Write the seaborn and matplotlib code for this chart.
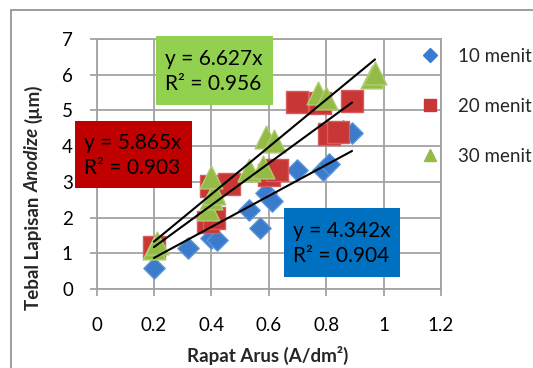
import numpy as np
import pandas as pd
import matplotlib
matplotlib.use("Agg")
import matplotlib.pyplot as plt
import seaborn as sns
from matplotlib.lines import Line2D
from matplotlib.patches import Rectangle

# Anodized layer thickness vs. current density for three anodizing times
series = ["10 menit", "20 menit", "30 menit"]

x_10 = [0.20, 0.32, 0.40, 0.42, 0.53, 0.57, 0.59, 0.61, 0.70, 0.79, 0.81, 0.86, 0.89]
y_10 = [0.60, 1.15, 1.42, 1.37, 2.20, 1.72, 2.68, 2.47, 3.33, 3.32, 3.50, 4.42, 4.37]

x_20 = [0.20, 0.39, 0.41, 0.40, 0.46, 0.60, 0.63, 0.70, 0.78, 0.81, 0.84, 0.89]
y_20 = [1.18, 1.88, 2.00, 2.88, 2.95, 3.20, 3.33, 5.24, 5.20, 4.35, 4.40, 5.27]

x_30 = [0.20, 0.21, 0.39, 0.40, 0.41, 0.40, 0.53, 0.58, 0.59, 0.62, 0.77, 0.80, 0.96, 0.97]
y_30 = [1.15, 1.28, 2.25, 2.55, 2.70, 3.15, 3.33, 3.42, 4.26, 4.15, 5.50, 5.35, 5.94, 6.05]

# Linear trend lines through the origin: slope and R²
slopes = [4.342, 5.865, 6.627]
r_squared = [0.904, 0.903, 0.956]

x_ticks = [0, 0.2, 0.4, 0.6, 0.8, 1.0, 1.2]
x_tick_labels = ["0", "0.2", "0.4", "0.6", "0.8", "1", "1.2"]
y_ticks = [0, 1, 2, 3, 4, 5, 6, 7]

df = pd.concat([
    pd.DataFrame({"x": x_10, "y": y_10, "waktu": series[0]}),
    pd.DataFrame({"x": x_20, "y": y_20, "waktu": series[1]}),
    pd.DataFrame({"x": x_30, "y": y_30, "waktu": series[2]}),
], ignore_index=True)

sns.set_theme(style="white")
plt.rcParams["font.family"] = ["Lato", "DejaVu Sans"]

W, H = 533, 368
fig = plt.figure(figsize=(W / 100, H / 100), dpi=100)


def fx(px):
    return px / W


def fy(py):
    return 1 - py / H


ax = fig.add_axes([fx(96.5), fy(289), (441 - 96.5) / W, (289 - 39) / H])

marker_style = {
    "10 menit": dict(marker="D", s=118, color="#3B7BCB", edgecolor="#5E95D8"),
    "20 menit": dict(marker="s", s=270, color="#C93636", edgecolor="#D85C5C"),
    "30 menit": dict(marker="^", s=270, color="#93BB46", edgecolor="#AFCC70"),
}
legend_ms = {"10 menit": 7, "20 menit": 8, "30 menit": 9}

for name in series:
    sub = df[df["waktu"] == name]
    st = marker_style[name]
    sns.scatterplot(data=sub, x="x", y="y", ax=ax, marker=st["marker"], s=st["s"],
                    color=st["color"], edgecolor=st["edgecolor"], linewidth=1.0,
                    legend=False, zorder=3)

# Trend lines y = k·x spanning each series' x range
for name, k in zip(series, slopes):
    sub = df[df["waktu"] == name]
    xs = np.array([sub["x"].min(), sub["x"].max()])
    ax.plot(xs, k * xs, color="black", lw=1.5, zorder=4)

grid_c = "#A3A3A3"
ax.set_xlim(0, 1.2)
ax.set_ylim(0, 7)
ax.set_xticks(x_ticks)
ax.set_xticklabels(x_tick_labels)
ax.set_yticks(y_ticks)
ax.grid(True, color=grid_c, lw=1.3)
ax.set_axisbelow(True)
for sp in ax.spines.values():
    sp.set_color(grid_c)
    sp.set_linewidth(1.3)
ax.tick_params(axis="both", which="both", bottom=True, left=True, direction="out",
               length=5, width=1.3, color=grid_c, labelsize=13.5, labelcolor="black")
ax.tick_params(axis="x", pad=15)
ax.tick_params(axis="y", pad=12)
ax.set_xlabel("")
ax.set_ylabel("")

# Equation boxes
boxes = [
    (284, 208, 400, 277, "#0070C0"),
    (75, 121, 192, 188, "#C00000"),
    (156, 36, 273, 105, "#92D050"),
]
for (x0, y0, x1, y1, c), k, r2 in zip(boxes, slopes, r_squared):
    fig.add_artist(Rectangle((fx(x0), fy(y1)), (x1 - x0) / W, (y1 - y0) / H,
                             transform=fig.transFigure, facecolor=c, edgecolor="none",
                             zorder=5))
    fig.text(fx(x0 + 9), fy((y0 + y1) / 2 + 1), f"y = {k:.3f}x\nR² = {r2:.3f}",
             ha="left", va="center", fontsize=15, color="black", linespacing=1.28,
             zorder=6)

# Legend
handles = [Line2D([], [], ls="none", marker=marker_style[n]["marker"],
                  markersize=legend_ms[n], markerfacecolor=marker_style[n]["color"],
                  markeredgecolor=marker_style[n]["color"]) for n in series]
ax.legend(handles, series, loc="upper left", bbox_to_anchor=(fx(421), fy(48)),
          bbox_transform=fig.transFigure, frameon=False, borderaxespad=0, borderpad=0,
          handlelength=1.0, handletextpad=1.0, labelspacing=1.75, fontsize=13.5)

# Axis titles
fig.text(fx(268), fy(355), "Rapat Arus (A/dm²)", ha="center", va="center",
         fontsize=13.5, fontweight="bold")

fig.canvas.draw()
renderer = fig.canvas.get_renderer()
parts = [("Tebal Lapisan", "normal"), ("Anodize", "italic"), ("(µm)", "normal")]
texts = []
for s, style in parts:
    t = fig.text(0, 0, s, rotation=90, rotation_mode="anchor", ha="left", va="center",
                 fontsize=13.5, fontweight="bold", fontstyle=style)
    texts.append(t)
lens = [t.get_window_extent(renderer).height for t in texts]
gap = 13.5 * 100 / 72 * 0.26
total = sum(lens) + gap * (len(lens) - 1)
cy = H - 197
cur = cy - total / 2
for t, L in zip(texts, lens):
    t.set_position((fx(33), cur / H))
    cur += L + gap

# Outer chart frame
fig.add_artist(Rectangle((fx(11), fy(H + 20)), (W + 20) / W, (H + 10) / H,
                         transform=fig.transFigure, fill=False, edgecolor="#8C8C8C",
                         lw=1.2))

fig.savefig("out.png", dpi=100)
